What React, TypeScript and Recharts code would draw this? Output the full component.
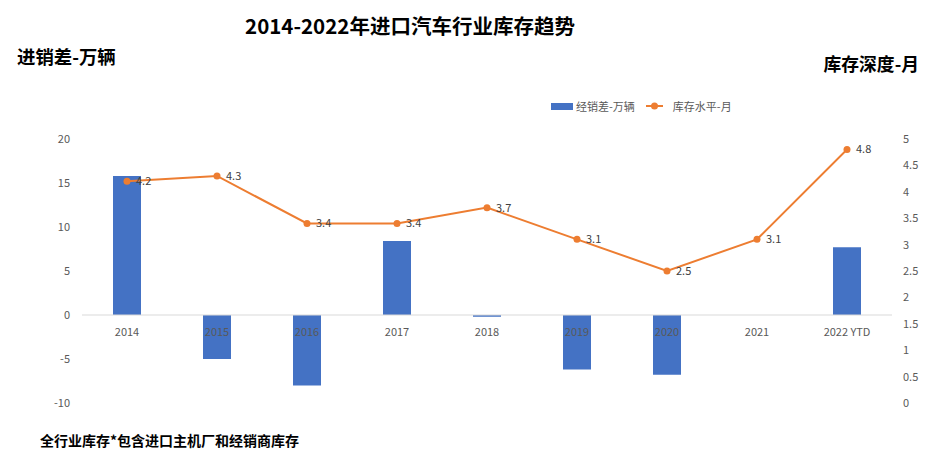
import React from "react";
import {
  ComposedChart,
  Bar,
  Line,
  XAxis,
  YAxis,
  ReferenceLine,
  Legend,
  LabelList,
} from "recharts";

const years = ["2014", "2015", "2016", "2017", "2018", "2019", "2020", "2021", "2022 YTD"];
const salesGap = [15.8, -5.0, -8.0, 8.4, -0.2, -6.2, -6.8, 0, 7.7];
const inventoryMonths = [4.2, 4.3, 3.4, 3.4, 3.7, 3.1, 2.5, 3.1, 4.8];
const zeroBase = [0, 0, 0, 0, 0, 0, 0, 0, 0];
const leftTicks = [-10, -5, 0, 5, 10, 15, 20];
const rightTicks = [0, 0.5, 1, 1.5, 2, 2.5, 3, 3.5, 4, 4.5, 5];

const data = years.map((y, i) => ({
  year: y,
  gap: salesGap[i],
  months: inventoryMonths[i],
  base: zeroBase[i],
}));

const FONT = '"Noto Sans CJK SC", "Noto Sans", sans-serif';
const BLUE = "#4472C4";
const ORANGE = "#ED7D31";

const renderLegend = (props: any) => {
  const payload = (props.payload || [])
    .filter((p: any) => p.type !== "none")
    .slice()
    .sort((a: any, b: any) => (a.type === "rect" ? -1 : 0) - (b.type === "rect" ? -1 : 0));
  return (
    <div style={{ display: "flex", alignItems: "center", fontFamily: FONT, fontSize: 11, color: "#595959" }}>
      {payload.map((p: any, i: number) => (
        <div key={i} style={{ display: "flex", alignItems: "center", marginRight: 11 }}>
          {p.type === "rect" ? (
            <svg width={22} height={7} style={{ marginRight: 3 }}>
              <rect x={0} y={0} width={22} height={7} fill={BLUE} />
            </svg>
          ) : (
            <svg width={17} height={8} style={{ marginRight: 10 }}>
              <line x1={0} y1={4} x2={17} y2={4} stroke={ORANGE} strokeWidth={2} />
              <circle cx={8.5} cy={4} r={3.5} fill={ORANGE} />
            </svg>
          )}
          <span>{p.value}</span>
        </div>
      ))}
    </div>
  );
};

export default function App() {
  return (
    <div style={{ position: "absolute", left: 0, top: 0, width: 939, height: 458, background: "#fff" }}>
      <div
        style={{
          position: "absolute",
          left: 0,
          width: 820,
          top: 11,
          textAlign: "center",
          fontFamily: FONT,
          fontWeight: "bold",
          fontSize: 20.5,
          color: "#000",
          lineHeight: "28px",
        }}
      >
        2014-2022年进口汽车行业库存趋势
      </div>
      <div
        style={{
          position: "absolute",
          left: 17,
          top: 44,
          fontFamily: FONT,
          fontWeight: "bold",
          fontSize: 18.4,
          color: "#000",
          lineHeight: "24px",
        }}
      >
        进销差-万辆
      </div>
      <div
        style={{
          position: "absolute",
          right: 20,
          top: 51,
          fontFamily: FONT,
          fontWeight: "bold",
          fontSize: 17.8,
          color: "#000",
          lineHeight: "24px",
        }}
      >
        库存深度-月
      </div>
      <div
        style={{
          position: "absolute",
          left: 40,
          top: 430,
          fontFamily: FONT,
          fontWeight: "bold",
          fontSize: 14,
          color: "#000",
          lineHeight: "20px",
        }}
      >
        全行业库存*包含进口主机厂和经销商库存
      </div>
      <ComposedChart
        width={939}
        height={458}
        data={data}
        margin={{ top: 139, right: 7, bottom: 55, left: 22 }}
        style={{ position: "absolute", left: 0, top: 0 }}
      >
        <XAxis dataKey="year" hide />
        <YAxis
          yAxisId="left"
          orientation="left"
          width={60}
          domain={[-10, 20]}
          ticks={leftTicks}
          interval={0}
          axisLine={false}
          tickLine={false}
          tickMargin={6}
          tick={{ fill: "#595959", fontSize: 11, fontFamily: FONT }}
        />
        <YAxis
          yAxisId="right"
          orientation="right"
          width={40}
          domain={[0, 5]}
          ticks={rightTicks}
          interval={0}
          axisLine={false}
          tickLine={false}
          tickMargin={5}
          tick={{ fill: "#595959", fontSize: 11, fontFamily: FONT, textAnchor: "start" }}
        />
        <Legend
          verticalAlign="middle"
          align="center"
          layout="horizontal"
          content={renderLegend}
          wrapperStyle={{ position: "absolute", top: 98, left: 551, width: 300, height: 18 }}
        />
        <Bar
          yAxisId="left"
          dataKey="gap"
          name="经销差-万辆"
          fill={BLUE}
          barSize={28}
          legendType="rect"
          isAnimationActive={false}
        />
        <ReferenceLine yAxisId="left" y={0} stroke="#D9D9D9" strokeWidth={1} />
        <Line
          yAxisId="left"
          dataKey="base"
          stroke="none"
          dot={false}
          activeDot={false}
          legendType="none"
          isAnimationActive={false}
        >
          <LabelList
            dataKey="year"
            position="bottom"
            offset={13}
            fill="#595959"
            fontSize={11}
            fontFamily={FONT}
          />
        </Line>
        <Line
          yAxisId="right"
          dataKey="months"
          name="库存水平-月"
          stroke={ORANGE}
          strokeWidth={2}
          dot={{ r: 3.5, fill: ORANGE, stroke: ORANGE, strokeWidth: 0 }}
          activeDot={false}
          legendType="line"
          isAnimationActive={false}
        >
          <LabelList
            dataKey="months"
            position="right"
            offset={9}
            fill="#404040"
            fontSize={11}
            fontFamily={FONT}
          />
        </Line>
      </ComposedChart>
    </div>
  );
}
